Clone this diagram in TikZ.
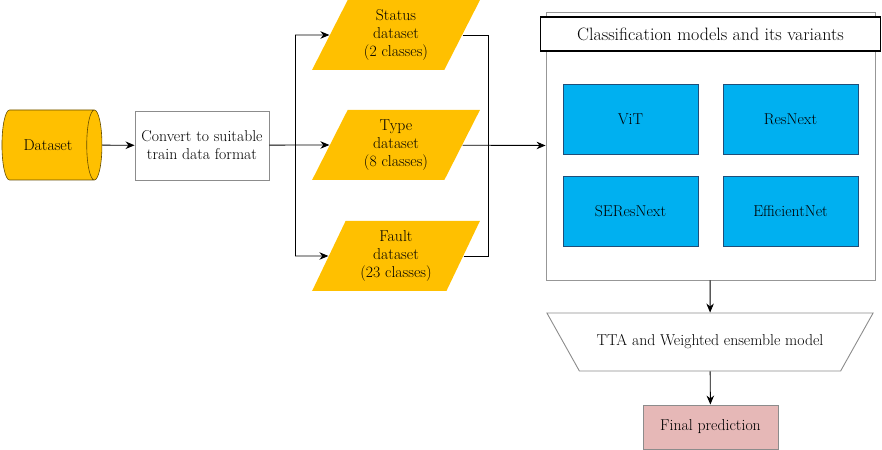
\documentclass[tikz,border=0pt]{standalone}
\usepackage{fontspec}
\usepackage{tikz}
\usetikzlibrary{arrows.meta}
\usetikzlibrary{shapes.geometric}

\definecolor{dsorange}{HTML}{FFC000}
\definecolor{dsblue}{HTML}{00B0F0}
\definecolor{dspink}{HTML}{E6B8B7}
\definecolor{dsgray}{HTML}{8C8C8C}
\definecolor{dsnavy}{HTML}{1F4E79}

\begin{document}
\begin{tikzpicture}[x=1bp,y=-1bp,font=\fontsize{15.8}{18}\selectfont,
		>={Stealth[length=9bp,width=7.5bp]},line width=0.9bp]
		\useasboundingbox (0,0) rectangle (882,450);

		% input side
		\node[cylinder, draw=black!60!dsorange, fill=dsorange, line width=0.6bp,
		      minimum width=70bp, minimum height=100bp, aspect=1.4, inner sep=0pt] (dataset) at (48,145) {Dataset};
		\node[draw=dsgray, fill=white, minimum width=134bp, minimum height=69bp,
		      align=center, inner sep=0pt] (convert) at (202,145.5) {Convert to suitable\\train data format};

		\begin{scope}[every node/.style={trapezium, trapezium left angle=65, trapezium right angle=115,
		              trapezium stretches=true, fill=dsorange, minimum width=168bp, minimum height=70bp,
		              inner sep=0pt, align=center}]
			\node (status) at (396,35) {Status\\dataset\\(2 classes)};
			\node (type) at (396,145) {Type\\dataset\\(8 classes)};
			\node (fault) at (396,256) {Fault\\dataset\\(23 classes)};
		\end{scope}

		% models
		\node[draw=dsgray!90, minimum width=329bp, minimum height=268bp] (models) at (710.5,146) {};
		\node[draw=black, fill=white, line width=1.3bp, minimum width=340bp, minimum height=34bp,
		      inner sep=0pt, font=\fontsize{18}{20}\selectfont] (title) at (710.5,34) {Classification models and its variants};
		\begin{scope}[every node/.style={draw=dsnavy, fill=dsblue, line width=0.6bp,
		              minimum width=135bp, minimum height=70bp, inner sep=0pt}]
			\node (vit) at (630.5,119.5) {ViT};
			\node (resnext) at (790.5,119.5) {ResNext};
			\node (seresnext) at (630.5,211) {SEResNext};
			\node (effnet) at (790.5,211) {EfficientNet};
		\end{scope}

		% output side
		\node[trapezium, trapezium left angle=117, trapezium right angle=117,
		      trapezium stretches=true, draw=dsgray, fill=white, minimum width=327bp, minimum height=58bp,
		      inner xsep=0pt, inner ysep=20.5bp] (ensemble) at (710,342) {TTA and Weighted ensemble model};
		\node[draw=dsgray, fill=dspink, minimum width=135bp, minimum height=44bp,
		      inner sep=0pt] (final) at (710.5,427) {Final prediction};

		\coordinate (split) at (295,145);
		\coordinate (merge) at (488,145);

		\draw[->] (dataset) -- (convert);
		\draw (convert) -- (split);
		\draw (split) -- (split |- status.center) (split) -- (split |- fault.center);
		\draw[->] (split |- status.center) -- (status);
		\draw[->] (split) -- (type);
		\draw[->] (split |- fault.center) -- (fault);
		\draw (status) -| (merge);
		\draw (fault) -| (merge);
		\draw[->] (type) -- (models);
		\draw[->] (models) -- (ensemble);
		\draw[->] (ensemble) -- (final);
\end{tikzpicture}
\end{document}
